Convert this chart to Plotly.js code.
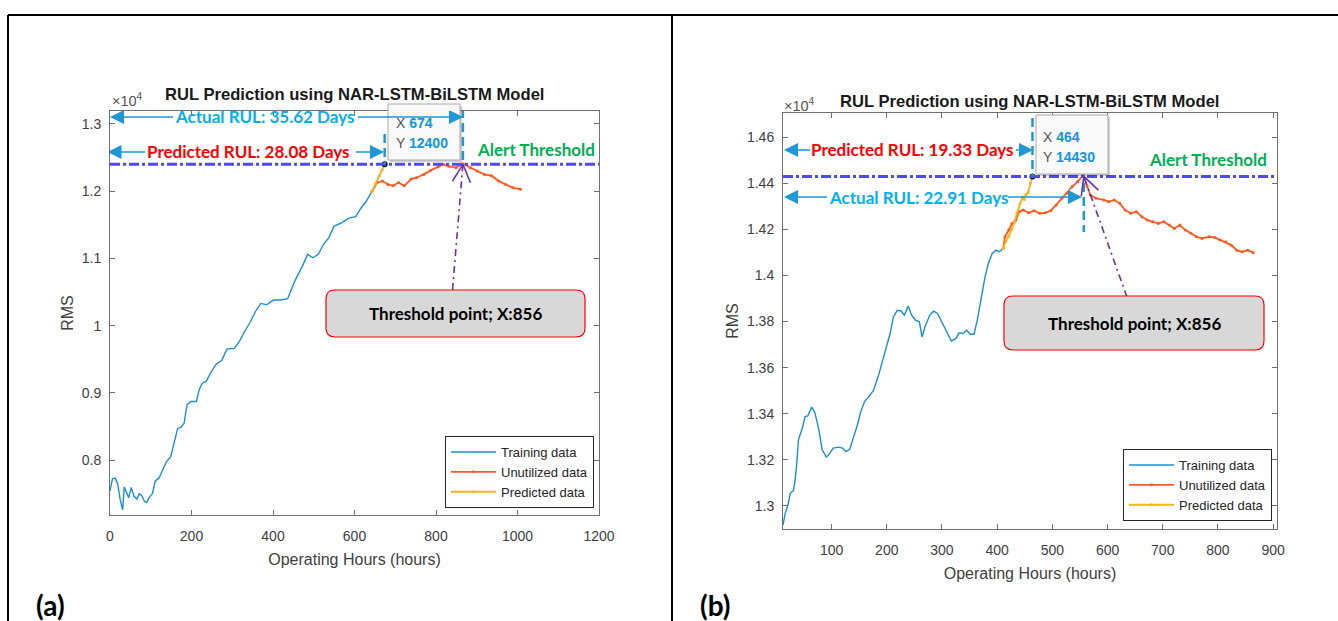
<!DOCTYPE html>
<html><head><meta charset="utf-8">
<script src="https://cdn.plot.ly/plotly-3.0.1.min.js"></script>
<style>html,body{margin:0;padding:0;background:#fff;overflow:hidden}#chart{width:1338px;height:621px}</style>
</head><body><div id="chart"></div>
<script>
// ---------------- data: panel (a) ----------------
const hoursTrainA = [0,6,13,19,25,31,35,41,46,52,59,66,72,78,85,90,98,104,111,120,129,138,149,157,166,175,182,189,198,212,219,226,236,248,261,274,287,305,318,331,344,357,370,384,401,419,436,454,471,485,498,511,524,537,550,568,586,603,616,629,643];
const rmsTrainA   = [7540,7720,7730,7640,7410,7260,7600,7510,7440,7590,7460,7420,7500,7470,7380,7370,7460,7500,7690,7730,7850,7970,8050,8260,8470,8490,8550,8820,8870,8870,9050,9140,9170,9310,9430,9480,9650,9660,9770,9920,10050,10210,10330,10310,10380,10380,10400,10670,10870,11060,11010,11060,11210,11310,11480,11530,11600,11620,11750,11850,12000];
const hoursUnusedA = [643,656,669,682,695,708,722,739,752,770,787,805,818,831,849,866,884,901,919,936,954,971,989,1007];
const rmsUnusedA   = [12000,12130,12150,12100,12080,12130,12080,12180,12200,12250,12310,12360,12400,12370,12350,12410,12350,12300,12250,12230,12150,12100,12050,12030];
const hoursPredA = [643,652,661,668,674];
const rmsPredA   = [12000,12110,12230,12320,12400];
const tipA = {x: 674, y: 12400};
const thresholdA = 12400;
const failA = 866;
const xTicksA = [0,200,400,600,800,1000,1200];
const yTickValsA = [8000,9000,10000,11000,12000,13000];
const yTickTextA = ['0.8','0.9','1','1.1','1.2','1.3'];
const actualTextA = 'Actual RUL: 35.62 Days';
const predTextA = 'Predicted RUL: 28.08 Days';

// ---------------- data: panel (b) ----------------
const hoursTrainB = [12,16,21,25,31,34,37,40,47,52,57,64,70,77,83,91,97,103,113,120,126,133,140,146,153,160,166,176,186,196,206,212,219,226,232,239,245,252,259,264,269,278,285,292,298,308,317,325,331,338,345,351,358,364,371,378,384,391,398,404,411];
const rmsTrainB   = [12917,12968,13004,13055,13067,13113,13186,13287,13338,13388,13391,13429,13403,13330,13243,13212,13229,13251,13255,13251,13236,13246,13301,13345,13410,13454,13470,13501,13574,13661,13748,13820,13849,13846,13828,13867,13828,13806,13799,13733,13777,13828,13845,13835,13806,13755,13716,13726,13751,13748,13762,13745,13745,13806,13907,13994,14052,14096,14110,14103,14117];
const hoursUnusedB = [411,414,421,427,434,440,447,457,467,477,487,497,507,517,526,536,546,556,563,569,579,593,602,612,622,632,642,652,662,672,682,692,702,712,721,731,741,751,761,771,784,794,804,814,824,834,844,854,864];
const rmsUnusedB   = [14117,14168,14197,14226,14241,14277,14284,14272,14281,14270,14272,14281,14306,14335,14357,14386,14407,14436,14386,14349,14335,14328,14320,14328,14313,14284,14270,14277,14255,14241,14233,14226,14233,14219,14204,14219,14197,14183,14168,14161,14168,14165,14154,14146,14132,14110,14103,14110,14099];
const hoursPredB = [411,416,421,426,431,436,441,446,449,452,456,460,464];
const rmsPredB   = [14117,14150,14170,14200,14230,14270,14310,14340,14330,14350,14360,14400,14430];
const tipB = {x: 464, y: 14430};
const thresholdB = 14430;
const failB = 557;
const xTicksB = [100,200,300,400,500,600,700,800,900];
const yTickValsB = [13000,13200,13400,13600,13800,14000,14200,14400,14600];
const yTickTextB = ['1.3','1.32','1.34','1.36','1.38','1.4','1.42','1.44','1.46'];
const actualTextB = 'Actual RUL: 22.91 Days';
const predTextB = 'Predicted RUL: 19.33 Days';

const seriesNames = ['Training data','Unutilized data','Predicted data'];
const titleText = 'RUL Prediction using NAR-LSTM-BiLSTM Model';
const xTitle = 'Operating Hours (hours)';
const yTitle = 'RMS';
const boxText = 'Threshold point; X:856';

// ---------------- layout geometry ----------------
const W = 1338, H = 621;
const PA = {px:[110,599], py:[111,515], xr:[0,1200], yr:[7182,13193]};
const PB = {px:[783,1277], py:[113,529], xr:[12,907], yr:[12900,14705]};
const dX = (P,p) => P.xr[0] + (p-P.px[0])/(P.px[1]-P.px[0])*(P.xr[1]-P.xr[0]);
const dY = (P,p) => P.yr[1] - (p-P.py[0])/(P.py[1]-P.py[0])*(P.yr[1]-P.yr[0]);
const pX = (P,v) => P.px[0] + (v-P.xr[0])/(P.xr[1]-P.xr[0])*(P.px[1]-P.px[0]);
const pY = (P,v) => P.py[0] + (P.yr[1]-v)/(P.yr[1]-P.yr[0])*(P.py[1]-P.py[0]);
const X = p => p/W, Y = p => 1 - p/H;

const ARIAL = 'Liberation Sans, Arial, sans-serif';
const CAL = 'Lato, Calibri, sans-serif';
const C_TRAIN = '#1a8fd6', C_UNUSED = '#ff5a1f', C_PRED = '#f9b21c';
const C_ARROW = '#1f97d6', C_THR = '#4b4bf0', C_PURPLE = '#7030a0';
const C_LBLUE = '#00b0f0', C_RED = '#ff0000', C_GREEN = '#00b050', C_TIPNUM = '#0f96e8';
const AXC = '#707070', TXC = '#404040';

function axisX(P, ticks, anchor) {
  return {domain:[X(P.px[0]), X(P.px[1])], range:P.xr, anchor:anchor, showline:true, mirror:'ticks',
    ticks:'inside', ticklen:5, tickcolor:AXC, linecolor:AXC, linewidth:1, showgrid:false, zeroline:false,
    tickvals:ticks, tickfont:{family:ARIAL,size:14,color:TXC}, ticklabelstandoff:8,
    title:{text:xTitle, font:{family:ARIAL,size:16,color:TXC}, standoff:11}};
}
function axisY(P, vals, text, anchor) {
  return {domain:[Y(P.py[1]), Y(P.py[0])], range:P.yr, anchor:anchor, showline:true, mirror:'ticks',
    ticks:'inside', ticklen:5, tickcolor:AXC, linecolor:AXC, linewidth:1, showgrid:false, zeroline:false,
    tickvals:vals, ticktext:text, tickfont:{family:ARIAL,size:14,color:TXC}, ticklabelstandoff:5,
    title:{text:yTitle, font:{family:ARIAL,size:16,color:TXC}, standoff:4}};
}

function traces(hT,rT,hU,rU,hP,rP,tip,xa,ya,leg){
  return [
    {x:hT,y:rT,xaxis:xa,yaxis:ya,legend:leg,name:seriesNames[0],mode:'lines',line:{color:C_TRAIN,width:1.4}},
    {x:hU,y:rU,xaxis:xa,yaxis:ya,legend:leg,name:seriesNames[1],mode:'lines+markers',line:{color:C_UNUSED,width:1.8},marker:{size:3,color:C_UNUSED}},
    {x:hP,y:rP,xaxis:xa,yaxis:ya,legend:leg,name:seriesNames[2],mode:'lines+markers',line:{color:C_PRED,width:1.8},marker:{size:3,color:C_PRED}},
    {x:[tip.x],y:[tip.y],xaxis:xa,yaxis:ya,showlegend:false,mode:'markers',marker:{size:6,color:'#111'},hoverinfo:'skip'}
  ];
}
const data = [].concat(
  traces(hoursTrainA,rmsTrainA,hoursUnusedA,rmsUnusedA,hoursPredA,rmsPredA,tipA,'x','y','legend'),
  traces(hoursTrainB,rmsTrainB,hoursUnusedB,rmsUnusedB,hoursPredB,rmsPredB,tipB,'x2','y2','legend2')
);

// ---------------- shapes ----------------
const shapes = [];
[[8,15,W,15],[8,15,8,H],[672,15,672,H]].forEach(s=>shapes.push({type:'line',xref:'paper',yref:'paper',x0:X(s[0]),y0:Y(s[1]),x1:X(s[2]),y1:Y(s[3]),line:{color:'#000',width:2}}));

function roundBox(x0,y0,x1,y1,r,fill,line,lw){
  const p = `M${X(x0+r)},${Y(y0)} L${X(x1-r)},${Y(y0)} Q${X(x1)},${Y(y0)} ${X(x1)},${Y(y0+r)} L${X(x1)},${Y(y1-r)} Q${X(x1)},${Y(y1)} ${X(x1-r)},${Y(y1)} L${X(x0+r)},${Y(y1)} Q${X(x0)},${Y(y1)} ${X(x0)},${Y(y1-r)} L${X(x0)},${Y(y0+r)} Q${X(x0)},${Y(y0)} ${X(x0+r)},${Y(y0)} Z`;
  return {type:'path',xref:'paper',yref:'paper',path:p,fillcolor:fill,line:{color:line,width:lw},layer:'above'};
}
// horizontal blue arrow: line + filled triangular head (pixel offsets converted to data units)
function hArrow(P,xr,yr,tailPx,tipPx,yPx){
  const dir = Math.sign(tipPx-tailPx), HL=14, HW=7;
  const base = tipPx - dir*HL;
  const out = [{type:'line',xref:xr,yref:yr,x0:dX(P,tailPx),x1:dX(P,base+dir*2),y0:dY(P,yPx),y1:dY(P,yPx),line:{color:C_ARROW,width:1.5},layer:'above'}];
  const path = `M${dX(P,tipPx)},${dY(P,yPx)} L${dX(P,base)},${dY(P,yPx-HW)} L${dX(P,base)},${dY(P,yPx+HW)} Z`;
  out.push({type:'path',xref:xr,yref:yr,path:path,fillcolor:C_ARROW,line:{width:0},layer:'above'});
  return out;
}
function purpleArrow(P,xr,yr,tipX,tipY,tail){
  const tx=pX(P,tipX), ty=pY(P,tipY);
  const ang=Math.atan2(tail[1]-ty, tail[0]-tx), L=20, h=27*Math.PI/180;
  const out=[{type:'line',xref:xr,yref:yr,x0:dX(P,tail[0]),y0:dY(P,tail[1]),x1:tipX,y1:tipY,line:{color:C_PURPLE,width:1.6,dash:'7px,4px,2px,4px'},layer:'above'}];
  [ang+h, ang-h].forEach(a=>out.push({type:'line',xref:xr,yref:yr,x0:tipX,y0:tipY,x1:dX(P,tx+L*Math.cos(a)),y1:dY(P,ty+L*Math.sin(a)),line:{color:C_PURPLE,width:1.6},layer:'above'}));
  return out;
}
function panelShapes(P,xr,yr,thr,tip,fail,tipTopPx,failSpan,tail,box,dbox){
  const s=[];
  s.push({type:'line',xref:xr+' domain',yref:yr,x0:0,x1:1,y0:thr,y1:thr,line:{color:C_THR,width:3,dash:'10px,3px,3px,3px'},layer:'above'});
  s.push({type:'line',xref:xr,yref:yr,x0:tip.x,x1:tip.x,y0:dY(P,tipTopPx),y1:tip.y,line:{color:C_ARROW,width:2.5,dash:'9px,5px'},layer:'above'});
  s.push({type:'line',xref:xr,yref:yr,x0:fail,x1:fail,y0:dY(P,failSpan[0]),y1:dY(P,failSpan[1]),line:{color:C_ARROW,width:2.5,dash:'9px,5px'},layer:'above'});
  s.push(...purpleArrow(P,xr,yr,fail,thr,tail));
  s.push(roundBox(box[0],box[1],box[2],box[3],9,'#d8d8d8','#ff0000',1.2));
  s.push({type:'rect',xref:'paper',yref:'paper',x0:X(dbox[0]+2),x1:X(dbox[2]+2),y0:Y(dbox[1]+2),y1:Y(dbox[3]+2),fillcolor:'rgba(0,0,0,0.18)',line:{width:0},layer:'above'});
  s.push({type:'rect',xref:'paper',yref:'paper',x0:X(dbox[0]),x1:X(dbox[2]),y0:Y(dbox[1]),y1:Y(dbox[3]),fillcolor:'#fafafa',line:{color:'#a8a8a8',width:1},layer:'above'});
  return s;
}
shapes.push(...panelShapes(PA,'x','y',thresholdA,tipA,failA,134,[109,pY(PA,thresholdA)],[452.5,290],[326,290,585,337],[388,104,460,160]));
shapes.push(...panelShapes(PB,'x2','y2',thresholdB,tipB,failB,118,[183,232],[1127,297],[1004,296,1264,350],[1036,115,1108,174]));
// RUL arrows
shapes.push(...hArrow(PA,'x','y',173,110,117), ...hArrow(PA,'x','y',358,463,117));
shapes.push(...hArrow(PA,'x','y',145,107.5,152), ...hArrow(PA,'x','y',356,384,152));
shapes.push(...hArrow(PB,'x2','y2',810,784,150), ...hArrow(PB,'x2','y2',1016,1033,150));
shapes.push(...hArrow(PB,'x2','y2',827,784,197), ...hArrow(PB,'x2','y2',1008,1082,197));

// ---------------- annotations ----------------
const ann = [];
function txt(xp,yp,text,font,extra){ return Object.assign({xref:'paper',yref:'paper',x:X(xp),y:Y(yp),text:text,showarrow:false,font:font,xanchor:'center',yanchor:'middle'},extra||{}); }
const TFONT = {family:ARIAL,size:16.6,color:'#1a1a1a'};
const BIG = s => ({family:CAL,size:s,color:'#000'});
ann.push(txt(354.5,94,'<b>'+titleText+'</b>',TFONT));
ann.push(txt(1030,101,'<b>'+titleText+'</b>',TFONT));
ann.push(txt(110,100,'×10<sup>4</sup>',{family:ARIAL,size:14.5,color:'#555'},{xanchor:'left'}));
ann.push(txt(782,105,'×10<sup>4</sup>',{family:ARIAL,size:14.5,color:'#555'},{xanchor:'left'}));
ann.push(txt(264,117,'<b>'+actualTextA+'</b>',{family:CAL,size:17,color:C_LBLUE}));
ann.push(txt(248.5,152,'<b>'+predTextA+'</b>',{family:CAL,size:17,color:C_RED}));
ann.push(txt(536,150,'<b>Alert Threshold</b>',{family:CAL,size:17,color:C_GREEN}));
ann.push(txt(912.7,150,'<b>'+predTextB+'</b>',{family:CAL,size:17,color:C_RED}));
ann.push(txt(918,197,'<b>'+actualTextB+'</b>',{family:CAL,size:17,color:C_LBLUE}));
ann.push(txt(1207.5,159,'<b>Alert Threshold</b>',{family:CAL,size:17,color:C_GREEN}));
const tipFont = {family:ARIAL,size:14,color:'#555'};
const num = v => '<span style="color:'+C_TIPNUM+'"><b>'+v+'</b></span>';
ann.push(txt(394,123,'X '+num(tipA.x),tipFont,{xanchor:'left'}));
ann.push(txt(394,143,'Y '+num(tipA.y),tipFont,{xanchor:'left'}));
ann.push(txt(1041,137,'X '+num(tipB.x),tipFont,{xanchor:'left'}));
ann.push(txt(1041,157,'Y '+num(tipB.y),tipFont,{xanchor:'left'}));
ann.push(txt(455.5,313.5,'<b>'+boxText+'</b>',BIG(17)));
ann.push(txt(1134,323,'<b>'+boxText+'</b>',BIG(17)));
ann.push(txt(50.5,605,'<b>(a)</b>',BIG(28)));
ann.push(txt(714.5,605,'<b>(b)</b>',BIG(28)));

const legendBase = {bgcolor:'#fff',bordercolor:'#262626',borderwidth:1,font:{family:ARIAL,size:13,color:'#262626'},xanchor:'right',yanchor:'bottom',itemwidth:45,tracegroupgap:0};
const layout = {
  width:W, height:H, margin:{l:0,r:0,t:0,b:0}, paper_bgcolor:'#fff', plot_bgcolor:'#fff',
  showlegend:true,
  xaxis: axisX(PA,xTicksA,'y'),
  yaxis: axisY(PA,yTickValsA,yTickTextA,'x'),
  xaxis2: axisX(PB,xTicksB,'y2'),
  yaxis2: axisY(PB,yTickValsB,yTickTextB,'x2'),
  legend: Object.assign({x:X(594),y:Y(508)},legendBase),
  legend2: Object.assign({x:X(1272),y:Y(521)},legendBase),
  shapes: shapes, annotations: ann
};
Plotly.newPlot('chart', data, layout, {staticPlot:true, displayModeBar:false});
</script></body></html>
